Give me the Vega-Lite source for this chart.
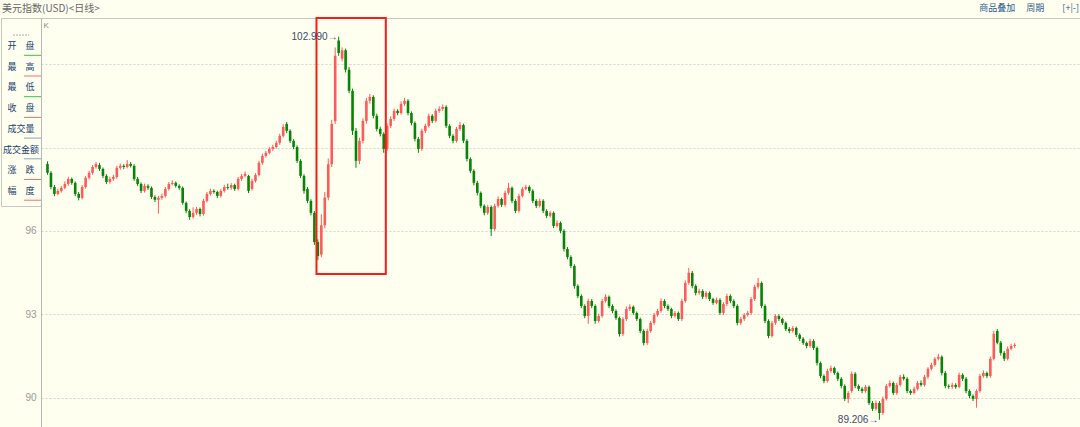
{
  "$schema": "https://vega.github.io/schema/vega-lite/v6.json",
  "background": "#FFFFF0",
  "padding": {"left": 0, "top": 3, "right": 0, "bottom": 0},
  "spacing": 0,
  "bounds": "flush",
  "config": {"view": {"stroke": "#c8c8c0"}, "font": "Liberation Sans"},
  "datasets": {
    "k": [
      {"i":0,"o":98.41,"h":98.50,"l":98.02,"c":98.09},
      {"i":1,"o":98.09,"h":98.15,"l":97.50,"c":97.58},
      {"i":2,"o":97.58,"h":97.65,"l":97.25,"c":97.33},
      {"i":3,"o":97.33,"h":97.52,"l":97.28,"c":97.44},
      {"i":4,"o":97.44,"h":97.62,"l":97.38,"c":97.55},
      {"i":5,"o":97.55,"h":97.78,"l":97.50,"c":97.69},
      {"i":6,"o":97.69,"h":97.95,"l":97.62,"c":97.87},
      {"i":7,"o":97.87,"h":97.92,"l":97.66,"c":97.73},
      {"i":8,"o":97.73,"h":97.78,"l":97.25,"c":97.33},
      {"i":9,"o":97.33,"h":97.40,"l":97.10,"c":97.19},
      {"i":10,"o":97.19,"h":97.65,"l":97.13,"c":97.58},
      {"i":11,"o":97.58,"h":97.98,"l":97.52,"c":97.91},
      {"i":12,"o":97.91,"h":98.16,"l":97.85,"c":98.09},
      {"i":13,"o":98.09,"h":98.37,"l":98.02,"c":98.30},
      {"i":14,"o":98.30,"h":98.48,"l":98.24,"c":98.41},
      {"i":15,"o":98.37,"h":98.45,"l":98.16,"c":98.23},
      {"i":16,"o":98.23,"h":98.28,"l":97.90,"c":97.98},
      {"i":17,"o":97.98,"h":98.04,"l":97.69,"c":97.76},
      {"i":18,"o":97.76,"h":97.95,"l":97.70,"c":97.87},
      {"i":19,"o":97.87,"h":98.02,"l":97.80,"c":97.94},
      {"i":20,"o":97.94,"h":98.34,"l":97.88,"c":98.27},
      {"i":21,"o":98.27,"h":98.42,"l":98.20,"c":98.34},
      {"i":22,"o":98.34,"h":98.40,"l":98.22,"c":98.30},
      {"i":23,"o":98.30,"h":98.55,"l":98.25,"c":98.41},
      {"i":24,"o":98.41,"h":98.48,"l":98.28,"c":98.34},
      {"i":25,"o":98.34,"h":98.40,"l":97.80,"c":97.87},
      {"i":26,"o":97.87,"h":97.94,"l":97.62,"c":97.69},
      {"i":27,"o":97.69,"h":97.75,"l":97.36,"c":97.44},
      {"i":28,"o":97.44,"h":97.70,"l":97.38,"c":97.62},
      {"i":29,"o":97.62,"h":97.68,"l":97.48,"c":97.55},
      {"i":30,"o":97.55,"h":97.60,"l":97.15,"c":97.22},
      {"i":31,"o":97.22,"h":97.28,"l":97.04,"c":97.12},
      {"i":32,"o":97.12,"h":97.26,"l":96.62,"c":97.19},
      {"i":33,"o":97.19,"h":97.34,"l":97.12,"c":97.26},
      {"i":34,"o":97.26,"h":97.58,"l":97.20,"c":97.51},
      {"i":35,"o":97.51,"h":97.76,"l":97.45,"c":97.69},
      {"i":36,"o":97.69,"h":97.82,"l":97.64,"c":97.73},
      {"i":37,"o":97.73,"h":97.78,"l":97.56,"c":97.62},
      {"i":38,"o":97.62,"h":97.68,"l":97.48,"c":97.55},
      {"i":39,"o":97.55,"h":97.60,"l":96.94,"c":97.01},
      {"i":40,"o":97.01,"h":97.06,"l":96.64,"c":96.72},
      {"i":41,"o":96.72,"h":96.78,"l":96.40,"c":96.50},
      {"i":42,"o":96.50,"h":96.85,"l":96.44,"c":96.65},
      {"i":43,"o":96.65,"h":96.86,"l":96.58,"c":96.79},
      {"i":44,"o":96.79,"h":96.84,"l":96.52,"c":96.61},
      {"i":45,"o":96.61,"h":97.15,"l":96.55,"c":97.08},
      {"i":46,"o":97.08,"h":97.40,"l":97.02,"c":97.33},
      {"i":47,"o":97.33,"h":97.52,"l":97.27,"c":97.44},
      {"i":48,"o":97.44,"h":97.50,"l":97.34,"c":97.40},
      {"i":49,"o":97.40,"h":97.45,"l":97.18,"c":97.26},
      {"i":50,"o":97.26,"h":97.50,"l":97.20,"c":97.44},
      {"i":51,"o":97.44,"h":97.66,"l":97.38,"c":97.58},
      {"i":52,"o":97.58,"h":97.70,"l":97.48,"c":97.55},
      {"i":53,"o":97.55,"h":97.72,"l":97.48,"c":97.65},
      {"i":54,"o":97.65,"h":97.70,"l":97.44,"c":97.51},
      {"i":55,"o":97.51,"h":97.94,"l":97.45,"c":97.87},
      {"i":56,"o":97.87,"h":98.05,"l":97.80,"c":97.98},
      {"i":57,"o":97.98,"h":98.14,"l":97.92,"c":98.05},
      {"i":58,"o":97.98,"h":98.02,"l":97.36,"c":97.44},
      {"i":59,"o":97.51,"h":97.88,"l":97.45,"c":97.80},
      {"i":60,"o":97.80,"h":98.08,"l":97.74,"c":98.01},
      {"i":61,"o":98.01,"h":98.52,"l":97.96,"c":98.45},
      {"i":62,"o":98.45,"h":98.78,"l":98.38,"c":98.70},
      {"i":63,"o":98.70,"h":98.88,"l":98.64,"c":98.81},
      {"i":64,"o":98.81,"h":99.02,"l":98.76,"c":98.95},
      {"i":65,"o":98.95,"h":99.10,"l":98.88,"c":99.02},
      {"i":66,"o":99.02,"h":99.24,"l":98.96,"c":99.17},
      {"i":67,"o":99.17,"h":99.50,"l":99.10,"c":99.42},
      {"i":68,"o":99.42,"h":99.84,"l":99.36,"c":99.74},
      {"i":69,"o":99.85,"h":99.92,"l":99.52,"c":99.60},
      {"i":70,"o":99.60,"h":99.66,"l":99.16,"c":99.24},
      {"i":71,"o":99.24,"h":99.30,"l":98.94,"c":99.02},
      {"i":72,"o":99.02,"h":99.08,"l":98.44,"c":98.52},
      {"i":73,"o":98.52,"h":98.58,"l":97.90,"c":97.98},
      {"i":74,"o":97.98,"h":98.04,"l":97.34,"c":97.44},
      {"i":75,"o":97.51,"h":97.58,"l":97.00,"c":97.08},
      {"i":76,"o":97.08,"h":97.14,"l":96.56,"c":96.65},
      {"i":77,"o":96.65,"h":96.72,"l":95.50,"c":95.60},
      {"i":78,"o":95.60,"h":95.70,"l":94.95,"c":95.10},
      {"i":79,"o":95.15,"h":96.60,"l":95.05,"c":96.20},
      {"i":80,"o":96.20,"h":97.40,"l":96.10,"c":97.20},
      {"i":81,"o":97.20,"h":98.60,"l":97.10,"c":98.40},
      {"i":82,"o":98.40,"h":100.00,"l":98.30,"c":99.85},
      {"i":83,"o":99.95,"h":102.60,"l":99.85,"c":102.30},
      {"i":84,"o":102.85,"h":102.99,"l":102.30,"c":102.40},
      {"i":85,"o":102.20,"h":102.60,"l":102.10,"c":102.50},
      {"i":86,"o":102.50,"h":102.56,"l":101.70,"c":101.80},
      {"i":87,"o":101.80,"h":101.90,"l":100.95,"c":101.04},
      {"i":88,"o":101.04,"h":101.12,"l":99.45,"c":99.60},
      {"i":89,"o":99.60,"h":99.70,"l":98.27,"c":98.52},
      {"i":90,"o":98.52,"h":99.35,"l":98.40,"c":99.24},
      {"i":91,"o":99.24,"h":100.05,"l":99.15,"c":99.96},
      {"i":92,"o":99.96,"h":100.78,"l":99.86,"c":100.68},
      {"i":93,"o":100.68,"h":100.93,"l":100.58,"c":100.82},
      {"i":94,"o":100.82,"h":100.88,"l":100.05,"c":100.14},
      {"i":95,"o":100.14,"h":100.22,"l":99.58,"c":99.67},
      {"i":96,"o":99.67,"h":99.75,"l":99.40,"c":99.49},
      {"i":97,"o":99.49,"h":99.55,"l":98.81,"c":98.95},
      {"i":98,"o":98.95,"h":99.86,"l":98.88,"c":99.78},
      {"i":99,"o":99.78,"h":100.12,"l":99.70,"c":100.03},
      {"i":100,"o":100.03,"h":100.40,"l":99.96,"c":100.32},
      {"i":101,"o":100.32,"h":100.38,"l":100.16,"c":100.24},
      {"i":102,"o":100.24,"h":100.66,"l":100.18,"c":100.57},
      {"i":103,"o":100.57,"h":100.78,"l":100.50,"c":100.68},
      {"i":104,"o":100.68,"h":100.74,"l":100.16,"c":100.24},
      {"i":105,"o":100.24,"h":100.30,"l":99.80,"c":99.88},
      {"i":106,"o":99.88,"h":99.94,"l":99.22,"c":99.31},
      {"i":107,"o":99.31,"h":99.38,"l":98.81,"c":98.95},
      {"i":108,"o":98.95,"h":99.68,"l":98.88,"c":99.60},
      {"i":109,"o":99.60,"h":99.86,"l":99.52,"c":99.78},
      {"i":110,"o":99.78,"h":100.22,"l":99.72,"c":100.14},
      {"i":111,"o":100.14,"h":100.20,"l":99.88,"c":99.96},
      {"i":112,"o":99.96,"h":100.40,"l":99.90,"c":100.32},
      {"i":113,"o":100.32,"h":100.48,"l":100.25,"c":100.39},
      {"i":114,"o":100.39,"h":100.55,"l":100.32,"c":100.46},
      {"i":115,"o":100.46,"h":100.52,"l":99.70,"c":99.78},
      {"i":116,"o":99.78,"h":99.84,"l":99.34,"c":99.42},
      {"i":117,"o":99.42,"h":99.48,"l":99.15,"c":99.24},
      {"i":118,"o":99.24,"h":99.74,"l":99.18,"c":99.67},
      {"i":119,"o":99.67,"h":99.92,"l":99.60,"c":99.81},
      {"i":120,"o":99.81,"h":99.86,"l":99.16,"c":99.24},
      {"i":121,"o":99.24,"h":99.30,"l":98.50,"c":98.59},
      {"i":122,"o":98.59,"h":98.65,"l":98.08,"c":98.16},
      {"i":123,"o":98.16,"h":98.22,"l":97.64,"c":97.73},
      {"i":124,"o":97.73,"h":97.80,"l":97.28,"c":97.37},
      {"i":125,"o":97.37,"h":97.42,"l":96.82,"c":96.90},
      {"i":126,"o":96.90,"h":96.96,"l":96.56,"c":96.65},
      {"i":127,"o":96.65,"h":96.94,"l":96.58,"c":96.86},
      {"i":128,"o":96.86,"h":96.92,"l":95.82,"c":96.07},
      {"i":129,"o":96.07,"h":96.98,"l":96.00,"c":96.90},
      {"i":130,"o":96.90,"h":97.24,"l":96.84,"c":97.15},
      {"i":131,"o":97.15,"h":97.20,"l":96.86,"c":96.94},
      {"i":132,"o":96.94,"h":97.45,"l":96.88,"c":97.37},
      {"i":133,"o":97.37,"h":97.73,"l":97.30,"c":97.55},
      {"i":134,"o":97.55,"h":97.60,"l":97.00,"c":97.08},
      {"i":135,"o":97.08,"h":97.14,"l":96.64,"c":96.72},
      {"i":136,"o":96.72,"h":97.34,"l":96.66,"c":97.26},
      {"i":137,"o":97.26,"h":97.58,"l":97.20,"c":97.51},
      {"i":138,"o":97.51,"h":97.66,"l":97.46,"c":97.58},
      {"i":139,"o":97.58,"h":97.64,"l":97.36,"c":97.44},
      {"i":140,"o":97.44,"h":97.50,"l":97.00,"c":97.08},
      {"i":141,"o":97.08,"h":97.14,"l":96.82,"c":96.90},
      {"i":142,"o":96.90,"h":97.16,"l":96.84,"c":97.08},
      {"i":143,"o":97.08,"h":97.14,"l":96.64,"c":96.72},
      {"i":144,"o":96.72,"h":96.78,"l":96.46,"c":96.54},
      {"i":145,"o":96.54,"h":96.72,"l":96.48,"c":96.65},
      {"i":146,"o":96.65,"h":96.70,"l":96.10,"c":96.18},
      {"i":147,"o":96.18,"h":96.38,"l":96.12,"c":96.29},
      {"i":148,"o":96.29,"h":96.34,"l":95.92,"c":96.00},
      {"i":149,"o":96.00,"h":96.06,"l":95.26,"c":95.35},
      {"i":150,"o":95.35,"h":95.42,"l":94.98,"c":95.06},
      {"i":151,"o":95.06,"h":95.12,"l":94.66,"c":94.74},
      {"i":152,"o":94.74,"h":94.80,"l":93.92,"c":94.02},
      {"i":153,"o":94.02,"h":94.08,"l":93.58,"c":93.66},
      {"i":154,"o":93.66,"h":93.72,"l":93.22,"c":93.30},
      {"i":155,"o":93.30,"h":93.36,"l":92.86,"c":92.94},
      {"i":156,"o":92.94,"h":93.56,"l":92.66,"c":93.48},
      {"i":157,"o":93.48,"h":93.55,"l":93.22,"c":93.30},
      {"i":158,"o":93.30,"h":93.36,"l":92.66,"c":92.76},
      {"i":159,"o":92.76,"h":93.02,"l":92.70,"c":92.94},
      {"i":160,"o":92.94,"h":93.56,"l":92.88,"c":93.48},
      {"i":161,"o":93.48,"h":93.72,"l":93.42,"c":93.63},
      {"i":162,"o":93.63,"h":93.68,"l":93.22,"c":93.30},
      {"i":163,"o":93.30,"h":93.36,"l":93.04,"c":93.12},
      {"i":164,"o":93.12,"h":93.18,"l":92.80,"c":92.87},
      {"i":165,"o":92.87,"h":92.92,"l":92.20,"c":92.29},
      {"i":166,"o":92.29,"h":92.90,"l":92.22,"c":92.83},
      {"i":167,"o":92.83,"h":93.28,"l":92.76,"c":93.19},
      {"i":168,"o":93.19,"h":93.36,"l":93.12,"c":93.27},
      {"i":169,"o":93.27,"h":93.32,"l":92.98,"c":93.05},
      {"i":170,"o":93.05,"h":93.10,"l":92.76,"c":92.83},
      {"i":171,"o":92.83,"h":92.88,"l":92.32,"c":92.40},
      {"i":172,"o":92.40,"h":92.46,"l":91.88,"c":91.97},
      {"i":173,"o":91.97,"h":92.48,"l":91.90,"c":92.40},
      {"i":174,"o":92.40,"h":92.76,"l":92.34,"c":92.69},
      {"i":175,"o":92.69,"h":93.05,"l":92.62,"c":92.98},
      {"i":176,"o":92.98,"h":93.20,"l":92.92,"c":93.12},
      {"i":177,"o":93.12,"h":93.58,"l":93.06,"c":93.48},
      {"i":178,"o":93.48,"h":93.54,"l":93.22,"c":93.30},
      {"i":179,"o":93.30,"h":93.36,"l":93.12,"c":93.19},
      {"i":180,"o":93.19,"h":93.24,"l":92.86,"c":92.94},
      {"i":181,"o":92.94,"h":93.12,"l":92.88,"c":93.05},
      {"i":182,"o":93.05,"h":93.10,"l":92.76,"c":92.83},
      {"i":183,"o":92.83,"h":93.56,"l":92.76,"c":93.48},
      {"i":184,"o":93.48,"h":94.22,"l":93.42,"c":94.13},
      {"i":185,"o":94.13,"h":94.67,"l":94.06,"c":94.49},
      {"i":186,"o":94.49,"h":94.56,"l":93.94,"c":94.02},
      {"i":187,"o":94.02,"h":94.08,"l":93.68,"c":93.77},
      {"i":188,"o":93.77,"h":93.92,"l":93.70,"c":93.84},
      {"i":189,"o":93.84,"h":93.90,"l":93.55,"c":93.63},
      {"i":190,"o":93.63,"h":93.84,"l":93.56,"c":93.77},
      {"i":191,"o":93.77,"h":93.82,"l":93.48,"c":93.55},
      {"i":192,"o":93.55,"h":93.60,"l":93.34,"c":93.41},
      {"i":193,"o":93.41,"h":93.60,"l":93.36,"c":93.52},
      {"i":194,"o":93.52,"h":93.58,"l":92.98,"c":93.05},
      {"i":195,"o":93.05,"h":93.44,"l":92.98,"c":93.37},
      {"i":196,"o":93.37,"h":93.74,"l":93.30,"c":93.66},
      {"i":197,"o":93.66,"h":93.72,"l":93.40,"c":93.48},
      {"i":198,"o":93.48,"h":93.54,"l":93.22,"c":93.30},
      {"i":199,"o":93.30,"h":93.36,"l":92.60,"c":92.69},
      {"i":200,"o":92.69,"h":92.90,"l":92.62,"c":92.83},
      {"i":201,"o":92.83,"h":93.04,"l":92.76,"c":92.98},
      {"i":202,"o":92.98,"h":93.12,"l":92.92,"c":93.05},
      {"i":203,"o":93.05,"h":93.62,"l":92.98,"c":93.55},
      {"i":204,"o":93.55,"h":94.06,"l":93.48,"c":93.99},
      {"i":205,"o":93.99,"h":94.31,"l":93.92,"c":94.13},
      {"i":206,"o":94.13,"h":94.18,"l":93.22,"c":93.30},
      {"i":207,"o":93.30,"h":93.36,"l":92.68,"c":92.76},
      {"i":208,"o":92.76,"h":92.82,"l":92.14,"c":92.22},
      {"i":209,"o":92.22,"h":92.76,"l":92.16,"c":92.69},
      {"i":210,"o":92.69,"h":93.00,"l":92.62,"c":92.94},
      {"i":211,"o":92.94,"h":93.00,"l":92.76,"c":92.83},
      {"i":212,"o":92.83,"h":92.88,"l":92.62,"c":92.69},
      {"i":213,"o":92.69,"h":92.74,"l":92.40,"c":92.47},
      {"i":214,"o":92.47,"h":92.54,"l":92.32,"c":92.40},
      {"i":215,"o":92.40,"h":92.58,"l":92.34,"c":92.51},
      {"i":216,"o":92.51,"h":92.56,"l":92.18,"c":92.26},
      {"i":217,"o":92.26,"h":92.32,"l":92.04,"c":92.12},
      {"i":218,"o":92.12,"h":92.18,"l":91.90,"c":91.97},
      {"i":219,"o":91.97,"h":92.02,"l":91.78,"c":91.86},
      {"i":220,"o":91.86,"h":92.12,"l":91.80,"c":92.04},
      {"i":221,"o":92.04,"h":92.10,"l":91.72,"c":91.79},
      {"i":222,"o":91.79,"h":91.84,"l":91.16,"c":91.25},
      {"i":223,"o":91.25,"h":91.30,"l":90.70,"c":90.78},
      {"i":224,"o":90.78,"h":90.84,"l":90.52,"c":90.60},
      {"i":225,"o":90.60,"h":91.04,"l":90.54,"c":90.96},
      {"i":226,"o":90.96,"h":91.16,"l":90.90,"c":91.07},
      {"i":227,"o":91.07,"h":91.12,"l":90.82,"c":90.89},
      {"i":228,"o":90.89,"h":90.94,"l":90.60,"c":90.68},
      {"i":229,"o":90.68,"h":90.74,"l":90.34,"c":90.42},
      {"i":230,"o":90.42,"h":90.48,"l":89.88,"c":89.96},
      {"i":231,"o":89.96,"h":90.24,"l":89.81,"c":90.17},
      {"i":232,"o":90.24,"h":90.94,"l":90.18,"c":90.86},
      {"i":233,"o":90.86,"h":90.92,"l":90.34,"c":90.42},
      {"i":234,"o":90.42,"h":90.48,"l":90.24,"c":90.32},
      {"i":235,"o":90.32,"h":90.38,"l":90.16,"c":90.24},
      {"i":236,"o":90.24,"h":90.46,"l":90.18,"c":90.39},
      {"i":237,"o":90.39,"h":90.44,"l":89.74,"c":89.81},
      {"i":238,"o":89.81,"h":89.88,"l":89.52,"c":89.60},
      {"i":239,"o":89.60,"h":89.90,"l":89.54,"c":89.81},
      {"i":240,"o":89.81,"h":89.88,"l":89.206,"c":89.45},
      {"i":241,"o":89.45,"h":90.04,"l":89.38,"c":89.96},
      {"i":242,"o":89.96,"h":90.50,"l":89.90,"c":90.42},
      {"i":243,"o":90.42,"h":90.62,"l":90.36,"c":90.53},
      {"i":244,"o":90.53,"h":90.58,"l":90.10,"c":90.17},
      {"i":245,"o":90.17,"h":90.54,"l":90.10,"c":90.46},
      {"i":246,"o":90.46,"h":90.82,"l":90.40,"c":90.75},
      {"i":247,"o":90.75,"h":90.84,"l":90.62,"c":90.68},
      {"i":248,"o":90.68,"h":90.74,"l":90.16,"c":90.24},
      {"i":249,"o":90.24,"h":90.30,"l":90.10,"c":90.17},
      {"i":250,"o":90.17,"h":90.40,"l":90.12,"c":90.32},
      {"i":251,"o":90.32,"h":90.60,"l":90.26,"c":90.53},
      {"i":252,"o":90.53,"h":90.62,"l":90.40,"c":90.46},
      {"i":253,"o":90.46,"h":90.82,"l":90.40,"c":90.75},
      {"i":254,"o":90.75,"h":91.10,"l":90.68,"c":91.04},
      {"i":255,"o":91.04,"h":91.26,"l":90.98,"c":91.18},
      {"i":256,"o":91.18,"h":91.46,"l":91.12,"c":91.40},
      {"i":257,"o":91.40,"h":91.58,"l":91.34,"c":91.47},
      {"i":258,"o":91.47,"h":91.52,"l":90.80,"c":90.89},
      {"i":259,"o":90.89,"h":90.96,"l":90.34,"c":90.42},
      {"i":260,"o":90.42,"h":90.48,"l":90.32,"c":90.39},
      {"i":261,"o":90.39,"h":90.54,"l":90.32,"c":90.46},
      {"i":262,"o":90.46,"h":90.52,"l":90.32,"c":90.39},
      {"i":263,"o":90.39,"h":90.90,"l":90.34,"c":90.82},
      {"i":264,"o":90.82,"h":90.88,"l":90.60,"c":90.68},
      {"i":265,"o":90.68,"h":90.74,"l":90.16,"c":90.24},
      {"i":266,"o":90.24,"h":90.30,"l":89.98,"c":90.06},
      {"i":267,"o":90.06,"h":90.12,"l":89.88,"c":89.96},
      {"i":268,"o":89.96,"h":90.30,"l":89.64,"c":90.24},
      {"i":269,"o":90.24,"h":90.86,"l":90.18,"c":90.78},
      {"i":270,"o":90.78,"h":90.98,"l":90.72,"c":90.89},
      {"i":271,"o":90.89,"h":90.94,"l":90.70,"c":90.78},
      {"i":272,"o":90.78,"h":91.48,"l":90.72,"c":91.40},
      {"i":273,"o":91.40,"h":92.40,"l":91.34,"c":92.30},
      {"i":274,"o":92.40,"h":92.47,"l":91.92,"c":91.98},
      {"i":275,"o":91.98,"h":92.04,"l":91.52,"c":91.61},
      {"i":276,"o":91.61,"h":91.68,"l":91.32,"c":91.40},
      {"i":277,"o":91.40,"h":91.84,"l":91.34,"c":91.76},
      {"i":278,"o":91.76,"h":91.94,"l":91.70,"c":91.86},
      {"i":279,"o":91.86,"h":91.96,"l":91.80,"c":91.90}
    ]
  },
  "hconcat": [
    {
      "width": 40,
      "height": 188,
      "title": {"text": "美元指数(USD)<日线>", "anchor": "start", "frame": "group", "offset": 4, "fontSize": 10, "color": "#666666", "font": "Noto Sans CJK SC", "fontWeight": "normal", "dx": 1},
      "data": {"values": [
        {"row": 0, "t": "开　盘"},
        {"row": 1, "t": "最　高"},
        {"row": 2, "t": "最　低"},
        {"row": 3, "t": "收　盘"},
        {"row": 4, "t": "成交量"},
        {"row": 5, "t": "成交金额"},
        {"row": 6, "t": "涨　跌"},
        {"row": 7, "t": "幅　度"}
      ]},
      "layer": [
        {
          "mark": {"type": "text", "fontSize": 9, "font": "Noto Sans CJK SC", "baseline": "middle", "align": "center", "color": "#22416f"},
          "encoding": {
            "y": {"field": "row", "type": "quantitative", "scale": {"domain": [-1.353, 7.729], "reverse": true, "nice": false, "zero": false}, "axis": null},
            "text": {"field": "t"}
          }
        },
        {
          "mark": {"type": "rule", "strokeWidth": 1},
          "encoding": {
            "y": {"field": "row", "type": "quantitative"},
            "yOffset": {"value": 9.3},
            "x": {"datum": 23, "type": "quantitative", "scale": {"domain": [0, 40], "nice": false, "zero": false}, "axis": null},
            "x2": {"datum": 40},
            "color": {"field": "t", "type": "nominal", "scale": {"domain": ["开　盘", "最　高", "最　低", "收　盘", "成交量", "成交金额", "涨　跌", "幅　度"], "range": ["#44bb44", "#ff6a6a", "#44bb44", "#ff6a6a", "#8aa4c0", "#8aa4c0", "#ff6a6a", "#ff6a6a"]}, "legend": null}
          }
        },
        {
          "data": {"values": [{"row": -0.53}]},
          "mark": {"type": "rule", "strokeWidth": 1, "color": "#aaaaaa", "strokeDash": [2, 1]},
          "encoding": {
            "y": {"field": "row", "type": "quantitative"},
            "x": {"datum": 12, "type": "quantitative"},
            "x2": {"datum": 28}
          }
        }
      ]
    },
    {
      "width": 1040,
      "height": 410,
      "title": {"text": "商品叠加　 周期　　[+|-]", "anchor": "end", "frame": "group", "offset": 4, "fontSize": 9, "color": "#2c5a8c", "font": "Noto Sans CJK SC", "fontWeight": "normal", "dx": -2},
      "layer": [
        {
          "data": {"name": "k"},
          "mark": {"type": "rule", "strokeWidth": 1},
          "encoding": {
            "x": {"field": "i", "type": "quantitative", "scale": {"domain": [-0.43, 296.71], "nice": false, "zero": false}, "axis": null},
            "y": {"field": "l", "type": "quantitative", "scale": {"domain": [88.91, 103.66], "nice": false, "zero": false},
              "axis": {"values": [90, 93, 96, 99, 102], "labelExpr": "datum.value < 98 ? datum.label : ''", "grid": true, "gridColor": "#d4d4cc", "gridDash": [2, 2], "ticks": false, "domain": true, "domainColor": "#b8b8b8", "labelColor": "#999999", "labelFontSize": 10, "labelFont": "Liberation Sans", "labelPadding": 5, "title": "K", "titleAngle": 0, "titleAlign": "left", "titleBaseline": "top", "titleX": 2, "titleY": 3, "titleFontSize": 8, "titleFontWeight": "normal", "titleColor": "#888888", "titleFont": "Liberation Sans"}},
            "y2": {"field": "h"},
            "color": {"condition": {"test": "datum.c >= datum.o", "value": "#ff5a5a"}, "value": "#078407"}
          }
        },
        {
          "data": {"name": "k"},
          "mark": {"type": "bar", "size": 2.6},
          "encoding": {
            "x": {"field": "i", "type": "quantitative"},
            "y": {"field": "o", "type": "quantitative"},
            "y2": {"field": "c"},
            "color": {"condition": {"test": "datum.c >= datum.o", "value": "#ff5a5a"}, "value": "#078407"}
          }
        },
        {
          "data": {"values": [{"a": 77.6, "b": 97.6, "top": 103.66, "bot": 94.45}]},
          "mark": {"type": "rect", "filled": false, "color": "#ff1a1a", "strokeWidth": 2},
          "encoding": {
            "x": {"field": "a", "type": "quantitative"},
            "x2": {"field": "b"},
            "y": {"field": "top", "type": "quantitative"},
            "y2": {"field": "bot"}
          }
        },
        {
          "data": {"values": [{"i": 84, "v": 102.99, "t": "102.990→"}, {"i": 240, "v": 89.206, "t": "89.206→"}]},
          "mark": {"type": "text", "align": "right", "baseline": "middle", "dx": -1, "fontSize": 10, "font": "Liberation Sans", "color": "#3b4a6b"},
          "encoding": {
            "x": {"field": "i", "type": "quantitative"},
            "y": {"field": "v", "type": "quantitative"},
            "text": {"field": "t"}
          }
        }
      ]
    }
  ]
}
